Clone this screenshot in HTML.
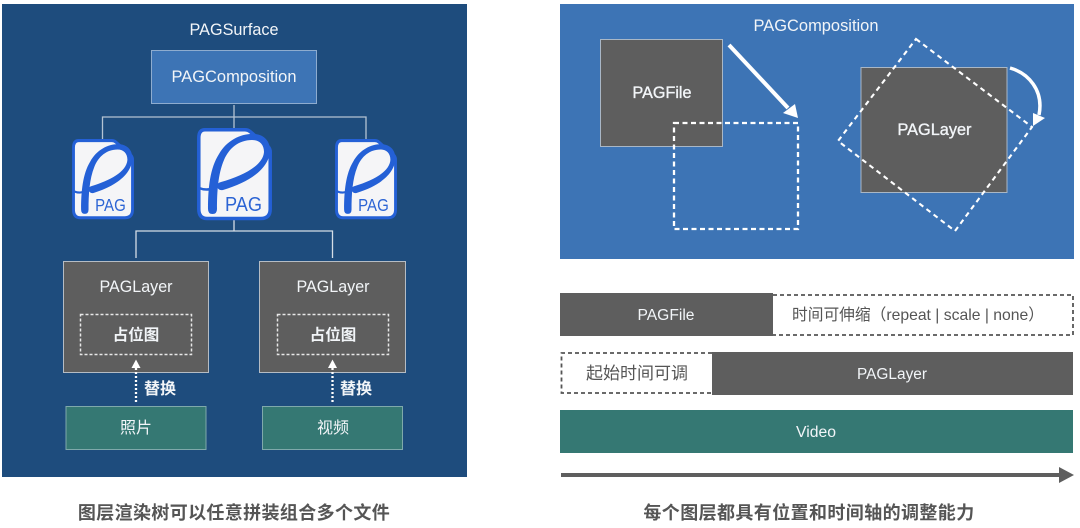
<!DOCTYPE html>
<html><head><meta charset="utf-8">
<style>
html,body{margin:0;padding:0;background:#fff;width:1080px;height:528px;overflow:hidden}
svg{display:block;font-family:"Liberation Sans","Noto Sans CJK SC",sans-serif}
.w{fill:#f2f5f8;text-anchor:middle}
.b{font-weight:700}
.m{stroke:#f2f5f8;stroke-width:.35}
.g{fill:#555;text-anchor:middle}
</style></head><body>
<svg width="1080" height="528" viewBox="0 0 1080 528" xmlns="http://www.w3.org/2000/svg">
<defs>
<g id="pag">
<path d="M8 1.800H48Q51 1.800 53 3.500L71.500 19Q73.200 21 73.200 24V81Q73.200 90.500 64 90.500H10Q1.800 90.500 1.800 81V10Q1.800 1.800 8 1.800Z" fill="#f5f5f7" stroke="#2460d6" stroke-width="3.500"/>
<path d="M11 81C11 60 13 40 22 26C30 12 45 5 58 6C68 7 73 14 73 22C73 36 60 52 26 62Q21 63 20 58Q20 55 24 54C45 48 66 38 67 24C67 16 62 12 55 12C42 12 32 20 27 32C21 46 20 64 20 81Q20 86 15.500 86Q11 86 11 81Z" fill="#2460d6"/>
<path d="M2 60C7 62 12 62 16 60" fill="none" stroke="#2460d6" stroke-width="2.500"/>
<text x="46.500" y="83" font-size="20" fill="#2c64d4" text-anchor="middle" textLength="37" lengthAdjust="spacingAndGlyphs">PAG</text>
</g>
</defs>

<rect x="2" y="4" width="465" height="473" fill="#1e4c7d"/>
<text x="234" y="35" class="w" font-size="17" textLength="89" lengthAdjust="spacingAndGlyphs">PAGSurface</text>
<rect x="151.500" y="50.500" width="165" height="53" fill="#3d74b5" stroke="#8eaccf"/>
<text x="234" y="82" class="w" font-size="17" textLength="125" lengthAdjust="spacingAndGlyphs">PAGComposition</text>
<path d="M234 105V129M102.500 140V117H366V140" fill="none" stroke="#b4c3d3" stroke-width="1.300"/>
<path d="M234 220V231M136 258V231H332.500V258" fill="none" stroke="#d5dde6" stroke-width="1.300"/>

<use href="#pag" transform="translate(72 139) scale(.827 .87)"/>
<use href="#pag" transform="translate(197 128)"/>
<use href="#pag" transform="translate(335 139) scale(.827 .87)"/>

<g fill="#5e5e5e" stroke="#b5bcc4">
<rect x="63.500" y="261.500" width="145" height="111"/>
<rect x="259.500" y="261.500" width="146" height="111"/>
</g>
<text x="136" y="292" class="w" font-size="17" textLength="73" lengthAdjust="spacingAndGlyphs">PAGLayer</text>
<text x="333" y="292" class="w" font-size="17" textLength="73" lengthAdjust="spacingAndGlyphs">PAGLayer</text>
<g fill="none" stroke="#e8e8e8" stroke-width="1.500" stroke-dasharray="3 2">
<rect x="80.500" y="314.500" width="111" height="40"/>
<rect x="277.500" y="314.500" width="111" height="40"/>
</g>
<text x="136" y="340" class="w b" font-size="15.500">占位图</text>
<text x="333" y="340" class="w b" font-size="15.500">占位图</text>
<g fill="#fff">
<path d="M136 359.500L140.500 368H131.500Z"/><path d="M332.500 359.500L337 368H328Z"/>
</g>
<path d="M136 368V402M332.500 368V402" stroke="#fff" stroke-width="2.300" stroke-dasharray="2 2" fill="none"/>
<text x="160" y="394" class="w b" font-size="16">替换</text>
<text x="356" y="394" class="w b" font-size="16">替换</text>
<g fill="#357873" stroke="#7fa9ab">
<rect x="66" y="406.500" width="140" height="43"/>
<rect x="262.500" y="406.500" width="140" height="43"/>
</g>
<text x="136" y="433" class="w" font-size="16">照片</text>
<text x="333" y="433" class="w" font-size="16">视频</text>
<text x="234" y="519" class="g b" font-size="18" letter-spacing=".37">图层渲染树可以任意拼装组合多个文件</text>

<rect x="560" y="4" width="514" height="255" fill="#3d74b5"/>
<text x="816" y="31" class="w" font-size="17" textLength="125" lengthAdjust="spacingAndGlyphs">PAGComposition</text>
<rect x="600.500" y="39.500" width="122" height="107" fill="#5e5e5e" stroke="#a9b7c6"/>
<text x="662" y="98" class="w m" font-size="16.500" textLength="59" lengthAdjust="spacingAndGlyphs">PAGFile</text>
<rect x="674" y="123" width="124" height="106" fill="none" stroke="#fff" stroke-width="2.300" stroke-dasharray="5 3.500"/>
<path d="M729 45L788 108" stroke="#fff" stroke-width="4" fill="none"/>
<path d="M798 118L783 113L795 104Z" fill="#fff"/>

<rect x="861" y="67.500" width="146" height="125" fill="#5e5e5e" stroke="#a9b7c6"/>
<path d="M916 39L1032 127L955 231L838 141Z" fill="none" stroke="#fff" stroke-width="2.100" stroke-dasharray="5 4"/>
<text x="934.500" y="135" class="w m" font-size="16.500" textLength="74" lengthAdjust="spacingAndGlyphs">PAGLayer</text>
<path d="M1010 68C1028 73 1044 90 1039 115" fill="none" stroke="#fff" stroke-width="3.500"/>
<path d="M1033 113L1045 118L1033 126Z" fill="#fff"/>

<rect x="560" y="293" width="213" height="43" fill="#5e5e5e"/>
<text x="666" y="320" class="w" font-size="15.500" textLength="57" lengthAdjust="spacingAndGlyphs">PAGFile</text>
<path d="M773 295H1073V335H773" fill="none" stroke="#555" stroke-width="1.800" stroke-dasharray="4 3"/>
<text x="918" y="320" font-size="16" fill="#555" text-anchor="middle" textLength="252" lengthAdjust="spacingAndGlyphs">时间可伸缩（repeat | scale | none）</text>

<path d="M712 353H561.500V393H712" fill="none" stroke="#555" stroke-width="1.800" stroke-dasharray="4 3"/>
<text x="637" y="379" class="g" font-size="17">起始时间可调</text>
<rect x="712" y="352" width="361" height="43" fill="#5e5e5e"/>
<text x="892" y="379" class="w" font-size="15.500" textLength="70" lengthAdjust="spacingAndGlyphs">PAGLayer</text>

<rect x="560" y="410" width="513" height="43" fill="#357873"/>
<text x="816" y="437" class="w" font-size="15.500" textLength="40" lengthAdjust="spacingAndGlyphs">Video</text>

<rect x="561" y="473" width="498" height="4" fill="#5e5e5e"/>
<path d="M1059 467L1074 475L1059 483Z" fill="#5e5e5e"/>
<text x="809" y="519" class="g b" font-size="18" letter-spacing=".4">每个图层都具有位置和时间轴的调整能力</text>
</svg>
</body></html>
